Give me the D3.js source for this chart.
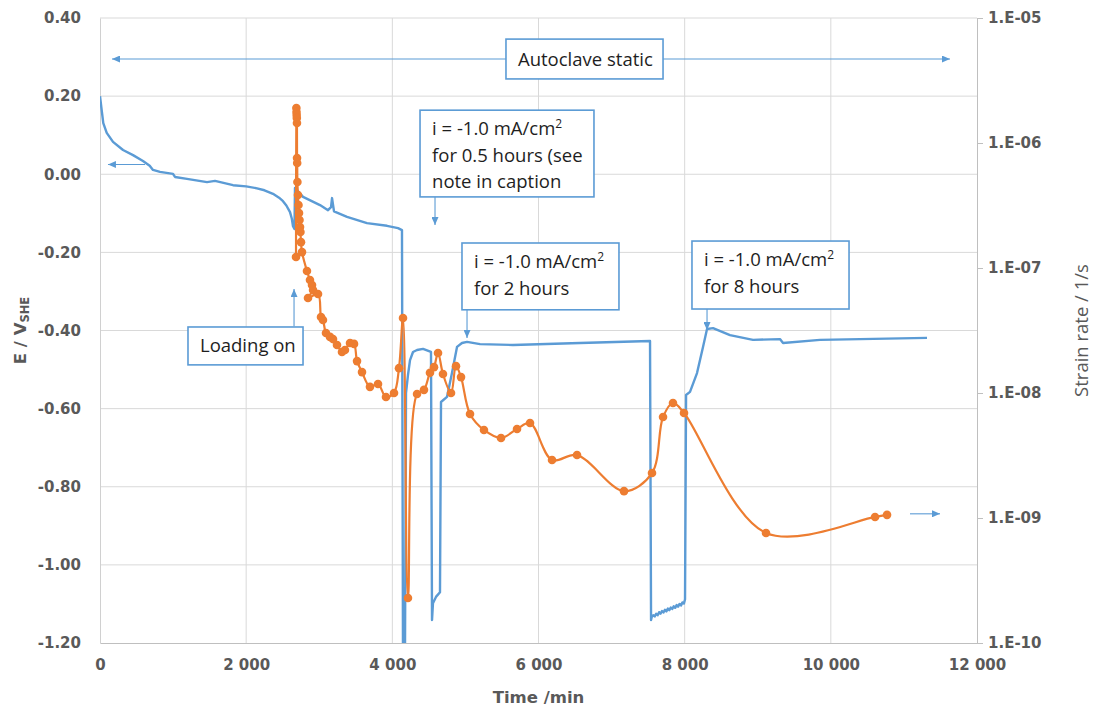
<!DOCTYPE html>
<html>
<head>
<meta charset="utf-8">
<script src="https://cdn.jsdelivr.net/npm/d3@7"></script>
<style>
  body { margin: 0; background: #fff; }
  svg { display: block; }
</style>
</head>
<body>
<svg id="chart" width="1094" height="711"></svg>
<script>
// Electrode potential E (V vs SHE) against time (min)
const potential = [
  [0, 0.200], [23, 0.164], [45, 0.131], [92, 0.106], [178, 0.083], [315, 0.062],
  [452, 0.049], [588, 0.034], [680, 0.022], [725, 0.011], [821, 0.006], [999, 0.001], [1026, -0.007],
  [1190, -0.012], [1464, -0.020], [1574, -0.017], [1820, -0.028], [2000, -0.031], [2148, -0.036],
  [2250, -0.041], [2367, -0.050], [2450, -0.060], [2504, -0.069], [2550, -0.080], [2600, -0.097],
  [2625, -0.114], [2641, -0.133], [2661, -0.140],
  [2668, -0.035], [2778, -0.058], [3010, -0.079], [3120, -0.092], [3161, -0.084],
  [3175, -0.061], [3202, -0.095], [3380, -0.109], [3653, -0.125], [3927, -0.132],
  [4078, -0.138], [4132, -0.143], [4146, -1.24], [4173, -1.24], [4187, -0.560],
  [4214, -0.514], [4242, -0.476], [4283, -0.455], [4338, -0.450], [4420, -0.447],
  [4529, -0.455], [4543, -1.141], [4556, -1.098], [4597, -1.082], [4652, -1.070],
  [4666, -0.583], [4748, -0.570], [4816, -0.509], [4885, -0.442], [4953, -0.432],
  [5022, -0.429], [5200, -0.435], [5651, -0.437], [6568, -0.432], [7526, -0.427],
  [7540, -1.141], [7550, -1.133], [7570, -1.129], [7590, -1.132], [7610, -1.125],
  [7630, -1.129], [7650, -1.121], [7670, -1.125], [7690, -1.118], [7710, -1.122],
  [7730, -1.115], [7750, -1.119], [7770, -1.112], [7790, -1.116], [7810, -1.109],
  [7830, -1.113], [7850, -1.106], [7870, -1.110], [7890, -1.103], [7910, -1.107],
  [7930, -1.100], [7950, -1.104], [7970, -1.096], [7990, -1.099], [8005, -1.088],
  [8019, -0.565], [8073, -0.557], [8169, -0.509], [8251, -0.442], [8306, -0.396],
  [8388, -0.394], [8620, -0.412], [8935, -0.424], [9304, -0.422], [9346, -0.432],
  [9852, -0.424], [11316, -0.419]
];

// Strain rate (1/s) against time (min)
const strainRate = [
  [2682, 1.225e-7], [2687, 1.905e-6], [2689, 1.77e-6], [2691, 1.675e-6], [2693, 1.585e-6],
  [2695, 1.445e-6], [2696, 7.59e-7], [2698, 6.92e-7], [2701, 4.88e-7], [2709, 3.84e-7],
  [2716, 3.19e-7], [2723, 2.75e-7], [2730, 2.42e-7], [2737, 2.13e-7], [2743, 1.94e-7],
  [2750, 1.61e-7], [2764, 1.34e-7], [2832, 9.46e-8], [2873, 8.02e-8], [2901, 7.31e-8],
  [2915, 6.67e-8], [2846, 5.75e-8], [2983, 6.19e-8], [3024, 4.06e-8], [3051, 3.84e-8],
  [3092, 3.02e-8], [3147, 2.81e-8], [3188, 2.70e-8], [3243, 2.42e-8], [3311, 2.13e-8],
  [3352, 2.21e-8], [3421, 2.51e-8], [3476, 2.47e-8], [3517, 1.80e-8], [3585, 1.47e-8],
  [3694, 1.12e-8], [3804, 1.18e-8], [3913, 9.29e-9], [4023, 1.00e-8], [4091, 1.58e-8],
  [4146, 3.98e-8], [4214, 2.29e-10], [4338, 9.82e-9], [4433, 1.06e-8], [4515, 1.45e-8],
  [4570, 1.61e-8], [4625, 2.09e-8], [4693, 1.42e-8], [4803, 1.00e-8], [4871, 1.64e-8],
  [4940, 1.34e-8], [5063, 6.79e-9], [5254, 5.06e-9], [5487, 4.37e-9], [5706, 5.15e-9],
  [5884, 5.75e-9], [6185, 2.91e-9], [6527, 3.19e-9], [7170, 1.64e-9], [7553, 2.29e-9],
  [7704, 6.43e-9], [7840, 8.32e-9], [7991, 6.92e-9], [9113, 7.59e-10], [10605, 1.02e-9],
  [10769, 1.06e-9]
];

const timeTicks = [0, 2000, 4000, 6000, 8000, 10000, 12000];
const potentialTicks = [0.4, 0.2, 0.0, -0.2, -0.4, -0.6, -0.8, -1.0, -1.2];
const rateTicks = [1e-5, 1e-6, 1e-7, 1e-8, 1e-9, 1e-10];

// Callout boxes: corners in data units (time, potential), one entry per text line
const noteBoxes = [
  { t0: 5555, t1: 7704, e0: 0.346, e1: 0.244, lines: [["Autoclave static"]] },
  { t0: 4379, t1: 6759, e0: 0.164, e1: -0.058,
    lines: [["i = -1.0 mA/cm", "2"], ["for 0.5 hours (see"], ["note in caption"]] },
  { t0: 4953, t1: 7101, e0: -0.176, e1: -0.347,
    lines: [["i = -1.0 mA/cm", "2"], ["for 2 hours"]] },
  { t0: 8100, t1: 10249, e0: -0.171, e1: -0.345,
    lines: [["i = -1.0 mA/cm", "2"], ["for 8 hours"]] },
  { t0: 1204, t1: 2778, e0: -0.391, e1: -0.488, lines: [["Loading on"]] }
];

// Pointer arrows: [time, potential] pairs, tip at "to"
const pointers = [
  { from: [164, 0.295], to: [11630, 0.295], both: true },
  { from: [616, 0.025], to: [109, 0.025] },
  { from: [2655, -0.389], to: [2655, -0.294] },
  { from: [4584, -0.058], to: [4584, -0.130] },
  { from: [5022, -0.347], to: [5022, -0.419] },
  { from: [8306, -0.345], to: [8306, -0.399] }
];
// Pointer toward the strain-rate axis, in (time, strain rate)
const ratePointer = { from: [11083, 1.08e-9], to: [11494, 1.08e-9] };

const BLUE = "#5B9BD5";
const ORANGE = "#ED7D31";
const GRID = "#d9d9d9";
const AXIS_TEXT = "#595959";

const svg = d3.select("#chart");
const plot = { left: 100, right: 977, top: 18, bottom: 643 };

const x = d3.scaleLinear().domain([0, 12000]).range([plot.left, plot.right]);
const yE = d3.scaleLinear().domain([-1.2, 0.4]).range([plot.bottom, plot.top]);
const yR = d3.scaleLog().domain([1e-10, 1e-5]).range([plot.bottom, plot.top]);

svg.append("rect").attr("width", 1094).attr("height", 711).attr("fill", "#fff");

const defs = svg.append("defs");
defs.append("clipPath").attr("id", "plotClip")
  .append("rect")
  .attr("x", plot.left).attr("y", plot.top - 2)
  .attr("width", plot.right - plot.left).attr("height", plot.bottom - plot.top + 2);

defs.append("marker")
  .attr("id", "tip")
  .attr("viewBox", "0 0 8 7")
  .attr("refX", 8).attr("refY", 3.5)
  .attr("markerWidth", 8).attr("markerHeight", 7)
  .attr("markerUnits", "userSpaceOnUse")
  .attr("orient", "auto-start-reverse")
  .append("path").attr("d", "M0,0 L8,3.5 L0,7 Z").attr("fill", BLUE);

// Gridlines
const grid = svg.append("g");
grid.selectAll("line.h")
  .data(potentialTicks.filter(v => v > -1.2))
  .join("line")
  .attr("x1", plot.left).attr("x2", plot.right)
  .attr("y1", d => yE(d)).attr("y2", d => yE(d))
  .attr("stroke", GRID).attr("stroke-width", 1);
grid.selectAll("line.v")
  .data(timeTicks.filter(v => v > 0 && v < 12000))
  .join("line")
  .attr("y1", plot.top).attr("y2", plot.bottom)
  .attr("x1", d => x(d)).attr("x2", d => x(d))
  .attr("stroke", GRID).attr("stroke-width", 1);

// Axes
const fmtTime = d => d3.format(",")(d).replace(/,/g, " ");
const axB = svg.append("g")
  .attr("transform", `translate(0,${plot.bottom})`)
  .call(d3.axisBottom(x).tickValues(timeTicks).tickSize(0).tickPadding(16).tickFormat(fmtTime));
axB.select(".domain").attr("stroke", "#bfbfbf");

const axL = svg.append("g")
  .attr("transform", `translate(${plot.left},0)`)
  .call(d3.axisLeft(yE).tickValues(potentialTicks).tickSize(0).tickPadding(19)
    .tickFormat(d => d.toFixed(2)));
axL.select(".domain").attr("stroke", "#d0d0d0");

const axR = svg.append("g")
  .attr("transform", `translate(${plot.right},0)`)
  .call(d3.axisRight(yR).tickValues(rateTicks).tickSize(6).tickSizeOuter(0).tickPadding(5)
    .tickFormat(d => "1.E-" + String(Math.round(-Math.log10(d))).padStart(2, "0")));
axR.select(".domain").attr("stroke", "#bfbfbf");
axR.selectAll(".tick line").attr("stroke", "#bfbfbf");

[axB, axL, axR].forEach(g => {
  g.attr("font-family", "'DejaVu Sans', sans-serif")
   .attr("font-size", 15)
   .attr("font-weight", "bold");
  g.selectAll("text").attr("fill", AXIS_TEXT);
});

// Axis titles
svg.append("text")
  .attr("x", (plot.left + plot.right) / 2).attr("y", 703)
  .attr("text-anchor", "middle")
  .attr("font-family", "'DejaVu Sans', sans-serif").attr("font-size", 16.5).attr("font-weight", "bold")
  .attr("fill", AXIS_TEXT)
  .text("Time /min");

const eTitle = svg.append("text")
  .attr("transform", `translate(26,${(plot.top + plot.bottom) / 2}) rotate(-90)`)
  .attr("text-anchor", "middle")
  .attr("font-family", "'DejaVu Sans', sans-serif").attr("font-size", 16.5).attr("font-weight", "bold")
  .attr("fill", AXIS_TEXT);
eTitle.append("tspan").text("E / V");
eTitle.append("tspan").attr("font-size", 11.5).attr("dy", 3).text("SHE");

svg.append("text")
  .attr("transform", `translate(1088,${(plot.top + plot.bottom) / 2}) rotate(-90)`)
  .attr("text-anchor", "middle")
  .attr("font-family", "'Open Sans', sans-serif").attr("font-size", 18.5)
  .attr("fill", AXIS_TEXT)
  .text("Strain rate / 1/s");

// Data series
const series = svg.append("g").attr("clip-path", "url(#plotClip)");

series.append("path")
  .datum(potential)
  .attr("fill", "none")
  .attr("stroke", BLUE).attr("stroke-width", 2.4)
  .attr("stroke-linejoin", "round")
  .attr("d", d3.line().x(d => x(d[0])).y(d => yE(d[1])));

series.append("path")
  .datum(strainRate)
  .attr("fill", "none")
  .attr("stroke", ORANGE).attr("stroke-width", 2.2)
  .attr("stroke-linejoin", "round")
  .attr("d", d3.line().x(d => x(d[0])).y(d => yR(d[1])).curve(d3.curveCatmullRom.alpha(0.5)));

series.selectAll("circle.rate")
  .data(strainRate)
  .join("circle")
  .attr("class", "rate")
  .attr("cx", d => x(d[0])).attr("cy", d => yR(d[1]))
  .attr("r", 4.3)
  .attr("fill", ORANGE);

// Pointer arrows
const notes = svg.append("g");
notes.selectAll("line.ptr")
  .data(pointers)
  .join("line")
  .attr("class", "ptr")
  .attr("x1", d => x(d.from[0])).attr("y1", d => yE(d.from[1]))
  .attr("x2", d => x(d.to[0])).attr("y2", d => yE(d.to[1]))
  .attr("stroke", BLUE).attr("stroke-width", 1.1)
  .attr("marker-end", "url(#tip)")
  .attr("marker-start", d => d.both ? "url(#tip)" : null);

notes.append("line")
  .attr("x1", x(ratePointer.from[0])).attr("y1", yR(ratePointer.from[1]))
  .attr("x2", x(ratePointer.to[0])).attr("y2", yR(ratePointer.to[1]))
  .attr("stroke", BLUE).attr("stroke-width", 1.1)
  .attr("marker-end", "url(#tip)");

// Callout boxes
const boxG = notes.selectAll("g.box")
  .data(noteBoxes)
  .join("g")
  .attr("class", "box");

boxG.append("rect")
  .attr("x", d => x(d.t0)).attr("y", d => yE(d.e0))
  .attr("width", d => x(d.t1) - x(d.t0))
  .attr("height", d => yE(d.e1) - yE(d.e0))
  .attr("fill", "#fff")
  .attr("stroke", BLUE).attr("stroke-width", 1.6);

boxG.each(function (d) {
  const g = d3.select(this);
  const top = yE(d.e0);
  const h = yE(d.e1) - top;
  const lineGap = 26.5;
  const first = d.lines.length === 1 ? top + h / 2 + 6.5 : top + 25;
  d.lines.forEach((parts, i) => {
    const t = g.append("text")
      .attr("x", x(d.t0) + 12)
      .attr("y", first + i * lineGap)
      .attr("font-family", "'Open Sans', sans-serif")
      .attr("font-size", 18.5)
      .attr("fill", "#1e1e1e");
    t.append("tspan").text(parts[0]);
    if (parts[1]) {
      t.append("tspan").attr("font-size", 12).attr("dy", -7).text(parts[1]);
    }
  });
});
</script>
</body>
</html>
